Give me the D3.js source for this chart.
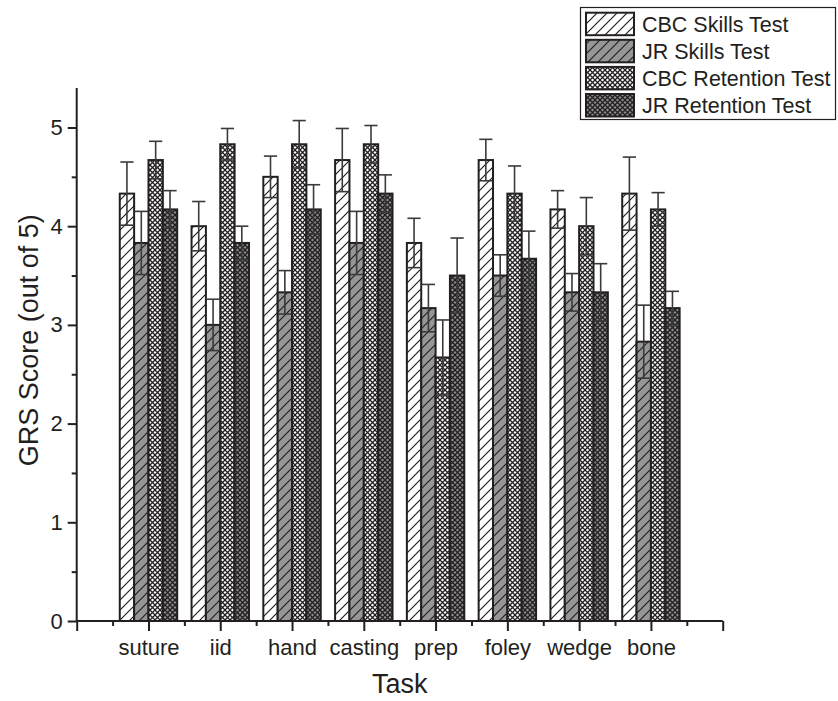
<!DOCTYPE html>
<html>
<head>
<meta charset="utf-8">
<script src="https://cdn.jsdelivr.net/npm/d3@7"></script>
<style>
  html, body { margin: 0; padding: 0; background: #fff; }
  svg { display: block; font-family: "Liberation Sans", Arial, sans-serif; }
</style>
</head>
<body>
<svg id="chart" width="838" height="701"></svg>
<script>
// ---- data ----
const categories = ["suture", "iid", "hand", "casting", "prep", "foley", "wedge", "bone"];
const seriesNames = ["CBC Skills Test", "JR Skills Test", "CBC Retention Test", "JR Retention Test"];
const cbcSkills    = [4.33, 4.00, 4.50, 4.67, 3.83, 4.67, 4.17, 4.33];
const cbcSkillsErr = [0.32, 0.25, 0.21, 0.32, 0.25, 0.21, 0.19, 0.37];
const jrSkills     = [3.83, 3.00, 3.33, 3.83, 3.17, 3.50, 3.33, 2.83];
const jrSkillsErr  = [0.32, 0.26, 0.22, 0.32, 0.24, 0.21, 0.19, 0.37];
const cbcRet       = [4.67, 4.83, 4.83, 4.83, 2.67, 4.33, 4.00, 4.17];
const cbcRetErr    = [0.19, 0.16, 0.24, 0.19, 0.38, 0.28, 0.29, 0.17];
const jrRet        = [4.17, 3.83, 4.17, 4.33, 3.50, 3.67, 3.33, 3.17];
const jrRetErr     = [0.19, 0.17, 0.25, 0.19, 0.38, 0.28, 0.29, 0.17];
const yTicks = [0, 1, 2, 3, 4, 5];
const yMinorTicks = [0.5, 1.5, 2.5, 3.5, 4.5];

const seriesValues = [cbcSkills, jrSkills, cbcRet, jrRet];
const seriesErrs = [cbcSkillsErr, jrSkillsErr, cbcRetErr, jrRetErr];
const patternIds = ["hatchWhite", "hatchGray", "crossWhite", "crossGray"];

const ink = "#231f20";
const svg = d3.select("#chart");

// ---- patterns ----
const defs = svg.append("defs");
function hatch(id, bg) {
  const p = defs.append("pattern").attr("id", id).attr("patternUnits", "userSpaceOnUse")
    .attr("width", 10).attr("height", 10);
  p.append("rect").attr("width", 10).attr("height", 10).attr("fill", bg);
  p.append("path").attr("d", "M-2,12 L12,-2 M-2,2 L2,-2 M8,12 L12,8")
    .attr("stroke", ink).attr("stroke-width", 1.2).attr("fill", "none");
}
function cross(id, bg) {
  const s = 5;
  const p = defs.append("pattern").attr("id", id).attr("patternUnits", "userSpaceOnUse")
    .attr("width", s).attr("height", s);
  p.append("rect").attr("width", s).attr("height", s).attr("fill", bg);
  p.append("path").attr("d", `M0,0 L${s},${s} M${s},0 L0,${s}`)
    .attr("stroke", ink).attr("stroke-width", 1.3).attr("fill", "none");
}
hatch("hatchWhite", "#ffffff");
hatch("hatchGray", "#969696");
cross("crossWhite", "#ffffff");
cross("crossGray", "#8c8c8c");

// ---- scales ----
const x = d3.scaleLinear().domain([0, 9]).range([76.7, 722.7]);
const y = d3.scaleLinear().domain([0, 5.4]).range([621, 88]);
const barW = x(0.2) - x(0);

// ---- bars ----
const data = [];
categories.forEach((c, i) => {
  seriesValues.forEach((vals, k) => {
    data.push({ cat: i, k, v: vals[i], e: seriesErrs[k][i] });
  });
});

const g = svg.append("g");
g.selectAll("rect.bar").data(data).enter().append("rect")
  .attr("class", "bar")
  .attr("x", d => x(d.cat + 1 + (d.k - 2) * 0.2))
  .attr("y", d => y(d.v))
  .attr("width", barW)
  .attr("height", d => y(0) - y(d.v))
  .attr("fill", d => `url(#${patternIds[d.k]})`)
  .attr("stroke", ink)
  .attr("stroke-width", 2);

// ---- error bars ----
const capHalf = 6.6;
const cx = d => x(d.cat + 1 + (d.k - 1.5) * 0.2);
const eb = g.selectAll("g.err").data(data).enter().append("g").attr("class", "err")
  .attr("stroke", "#3a3a3a").attr("stroke-width", 1.6);
eb.append("line")
  .attr("x1", cx).attr("x2", cx)
  .attr("y1", d => y(d.v + d.e)).attr("y2", d => y(d.v - d.e));
eb.append("line")
  .attr("x1", d => cx(d) - capHalf).attr("x2", d => cx(d) + capHalf)
  .attr("y1", d => y(d.v + d.e)).attr("y2", d => y(d.v + d.e));
eb.append("line")
  .attr("x1", d => cx(d) - capHalf).attr("x2", d => cx(d) + capHalf)
  .attr("y1", d => y(d.v - d.e)).attr("y2", d => y(d.v - d.e));

// ---- axes ----
function styleAxis(sel) {
  sel.select(".domain").attr("stroke", ink).attr("stroke-width", 2);
  sel.selectAll(".tick line").attr("stroke", ink).attr("stroke-width", 2);
  sel.selectAll("text").attr("fill", ink).style("font-size", "22px")
    .style("font-family", '"Liberation Sans", Arial, sans-serif');
}
const xMajor = d3.range(0, 10);
const xMinor = d3.range(0.5, 9, 1);
const xa = svg.append("g").attr("transform", `translate(0,${y(0)})`)
  .call(d3.axisBottom(x).tickValues(xMajor).tickSize(10).tickPadding(8)
    .tickFormat(d => (d >= 1 && d <= 8) ? categories[d - 1] : ""));
styleAxis(xa);
const xm = svg.append("g").attr("transform", `translate(0,${y(0)})`)
  .call(d3.axisBottom(x).tickValues(xMinor).tickSize(5).tickFormat(""));
styleAxis(xm);
xm.select(".domain").remove();

const ya = svg.append("g").attr("transform", `translate(${x(0)},0)`)
  .call(d3.axisLeft(y).tickValues(yTicks).tickSize(9).tickPadding(5).tickFormat(d3.format("d")));
styleAxis(ya);
const ym = svg.append("g").attr("transform", `translate(${x(0)},0)`)
  .call(d3.axisLeft(y).tickValues(yMinorTicks).tickSize(5).tickFormat(""));
styleAxis(ym);
ym.select(".domain").remove();
ya.select(".domain").attr("d", `M0,${y(5.4)}V${y(0)}`);
xa.select(".domain").attr("d", `M${x(0)},0H${x(9)}`);

// ---- titles ----
svg.append("text").attr("x", x(4.5)).attr("y", 693).attr("text-anchor", "middle")
  .attr("fill", ink).style("font-size", "27px").text("Task");
svg.append("text").attr("transform", `translate(38,${(y(0) + y(5)) / 2 - 34}) rotate(-90)`)
  .attr("text-anchor", "middle").attr("fill", ink).style("font-size", "27px")
  .text("GRS Score (out of 5)");

// ---- legend ----
const lg = svg.append("g");
lg.append("rect").attr("x", 580.5).attr("y", 7.5).attr("width", 255).attr("height", 112)
  .attr("fill", "#fff").attr("stroke", ink).attr("stroke-width", 1.2);
seriesNames.forEach((name, k) => {
  const top = 12.7 + k * 27.1;
  lg.append("rect").attr("x", 586).attr("y", top).attr("width", 48).attr("height", 22.5)
    .attr("fill", `url(#${patternIds[k]})`).attr("stroke", ink).attr("stroke-width", 2);
  lg.append("text").attr("x", 642).attr("y", top + 19.3).attr("fill", ink)
    .style("font-size", "21.5px").text(name);
});
</script>
</body>
</html>
